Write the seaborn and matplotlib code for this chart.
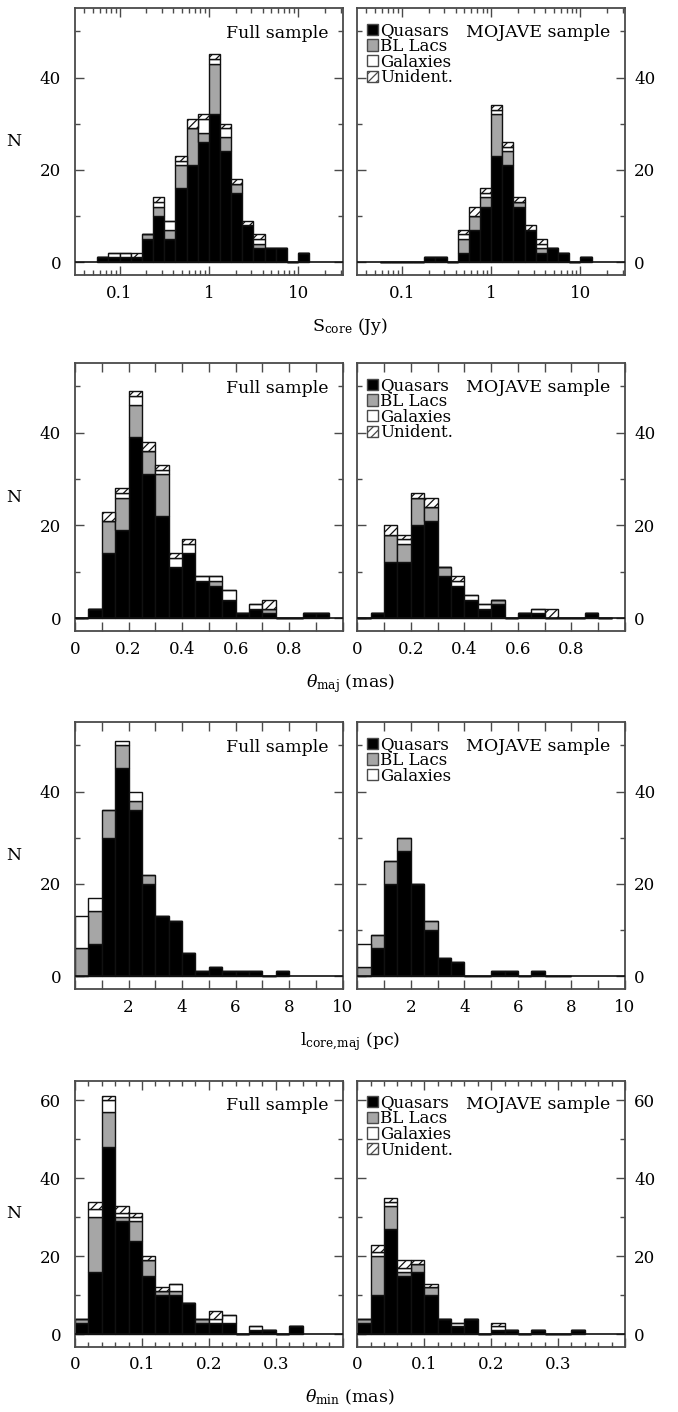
import numpy as np
import pandas as pd
import matplotlib
matplotlib.use("Agg")
import matplotlib.pyplot as plt
import seaborn as sns
from matplotlib.patches import Patch
from matplotlib.ticker import FixedLocator, NullFormatter

sns.set_theme(style="ticks")
plt.rcParams['font.family'] = ['DejaVu Serif']
plt.rcParams['mathtext.fontset'] = 'dejavuserif'
plt.rcParams['hatch.linewidth'] = 0.9
plt.rcParams['text.color'] = 'black'

classes = ["Quasars", "BL Lacs", "Galaxies", "Unident."]

# ---------------- data (counts per bin) ----------------
# S_core: bins in log10(Jy), width 0.125 dex starting at -1.25
score_log_edges = np.arange(-1.25, 1.126, 0.125)
score_full_q = [1, 1, 1, 1, 5, 10, 5, 16, 21, 26, 32, 24, 15, 8, 3, 3, 3, 0, 2]
score_full_b = [0, 0, 0, 0, 1, 2, 2, 5, 8, 2, 11, 3, 2, 0, 1, 0, 0, 0, 0]
score_full_g = [0, 1, 1, 0, 0, 1, 2, 1, 0, 3, 1, 2, 0, 0, 1, 0, 0, 0, 0]
score_full_u = [0, 0, 0, 1, 0, 1, 0, 1, 2, 1, 1, 1, 1, 1, 1, 0, 0, 0, 0]
score_moj_q = [0, 0, 0, 0, 1, 1, 0, 2, 7, 12, 23, 21, 12, 7, 2, 3, 2, 0, 1]
score_moj_b = [0, 0, 0, 0, 0, 0, 0, 3, 3, 2, 9, 3, 1, 0, 1, 0, 0, 0, 0]
score_moj_g = [0, 0, 0, 0, 0, 0, 0, 1, 0, 1, 1, 1, 0, 0, 1, 0, 0, 0, 0]
score_moj_u = [0, 0, 0, 0, 0, 0, 0, 1, 2, 1, 1, 1, 1, 1, 1, 0, 0, 0, 0]

# theta_maj (mas): bins of 0.05 from 0
tmaj_edges = np.arange(0, 0.951, 0.05)
tmaj_full_q = [0, 2, 14, 19, 39, 31, 22, 11, 14, 8, 7, 4, 1, 2, 1, 0, 0, 1, 1]
tmaj_full_b = [0, 0, 7, 7, 7, 5, 9, 0, 0, 0, 1, 0, 0, 0, 1, 0, 0, 0, 0]
tmaj_full_g = [0, 0, 0, 1, 2, 0, 1, 2, 2, 1, 1, 2, 0, 1, 0, 0, 0, 0, 0]
tmaj_full_u = [0, 0, 2, 1, 1, 2, 1, 1, 1, 0, 0, 0, 0, 0, 2, 0, 0, 0, 0]
tmaj_moj_q = [0, 1, 12, 12, 20, 21, 9, 7, 4, 2, 3, 0, 1, 1, 0, 0, 0, 1, 0]
tmaj_moj_b = [0, 0, 6, 4, 6, 3, 2, 0, 0, 0, 1, 0, 0, 0, 0, 0, 0, 0, 0]
tmaj_moj_g = [0, 0, 0, 1, 0, 0, 0, 1, 1, 1, 0, 0, 0, 1, 0, 0, 0, 0, 0]
tmaj_moj_u = [0, 0, 2, 1, 1, 2, 0, 1, 0, 0, 0, 0, 0, 0, 2, 0, 0, 0, 0]

# l_core,maj (pc): bins of 0.5 from 0
lcore_edges = np.arange(0, 8.01, 0.5)
lcore_full_q = [0, 7, 30, 45, 36, 20, 13, 12, 5, 1, 2, 1, 1, 1, 0, 1]
lcore_full_b = [6, 7, 6, 5, 2, 2, 0, 0, 0, 0, 0, 0, 0, 0, 0, 0]
lcore_full_g = [7, 3, 0, 1, 2, 0, 0, 0, 0, 0, 0, 0, 0, 0, 0, 0]
lcore_moj_q = [0, 6, 20, 27, 20, 10, 4, 3, 0, 0, 1, 1, 0, 1, 0, 0]
lcore_moj_b = [2, 3, 5, 3, 0, 2, 0, 0, 0, 0, 0, 0, 0, 0, 0, 0]
lcore_moj_g = [5, 0, 0, 0, 0, 0, 0, 0, 0, 0, 0, 0, 0, 0, 0, 0]

# theta_min (mas): bins of 0.02 from 0
tmin_edges = np.arange(0, 0.341, 0.02)
tmin_full_q = [3, 16, 48, 29, 24, 15, 10, 10, 8, 3, 3, 3, 0, 1, 1, 0, 2]
tmin_full_b = [1, 14, 9, 1, 5, 4, 1, 1, 0, 1, 0, 0, 0, 0, 0, 0, 0]
tmin_full_g = [0, 2, 3, 1, 1, 0, 0, 2, 0, 0, 1, 2, 0, 1, 0, 0, 0]
tmin_full_u = [0, 2, 1, 2, 1, 1, 1, 0, 0, 0, 2, 0, 0, 0, 0, 0, 0]
tmin_moj_q = [3, 10, 27, 15, 16, 10, 4, 2, 4, 0, 1, 1, 0, 1, 0, 0, 1]
tmin_moj_b = [1, 10, 6, 1, 2, 2, 0, 0, 0, 0, 0, 0, 0, 0, 0, 0, 0]
tmin_moj_g = [0, 1, 1, 1, 0, 0, 0, 1, 0, 0, 1, 0, 0, 0, 0, 0, 0]
tmin_moj_u = [0, 2, 1, 2, 1, 1, 0, 0, 0, 0, 1, 0, 0, 0, 0, 0, 0]

xlabels = [r"S$_{\mathrm{core}}$ (Jy)", r"$\theta_{\mathrm{maj}}$ (mas)",
           r"l$_{\mathrm{core{,}maj}}$ (pc)", r"$\theta_{\mathrm{min}}$ (mas)"]

# ---------------- styling ----------------
DARK = "#111111"
SPINE = "#4a4a4a"
GRAY = "#a6a6a6"
UNID = "#fefefe"
HATCH = "////"
palette = {"Quasars": "black", "BL Lacs": GRAY, "Galaxies": "white", "Unident.": UNID}

W, H = 678, 1412
fig = plt.figure(figsize=(W / 100, H / 100), dpi=100)

# (top px, bottom px) of each row of panels
row_px = [(8.3, 275.0), (363.3, 631.0), (722.3, 989.0), (1080.7, 1346.7)]
col_px = [(75.0, 342.7), (357.3, 625.0)]


def draw_panel(ax, edges, series, log=False):
    edges = np.asarray(edges, dtype=float)
    centers = (edges[:-1] + edges[1:]) / 2
    xs = 10 ** centers if log else centers
    rows = []
    present = []
    for name, vals in zip(classes, series):
        if vals is None:
            continue
        present.append(name)
        for xc, v in zip(xs, vals):
            rows.append((xc, v, name))
    df = pd.DataFrame(rows, columns=["x", "w", "cls"])
    sns.histplot(data=df, x="x", weights="w", hue="cls", hue_order=present[::-1],
                 multiple="stack", bins=[float(e) for e in edges], log_scale=log,
                 palette=palette, edgecolor=DARK, linewidth=1.0, alpha=1,
                 legend=False, ax=ax)
    for p in ax.patches:
        fc = p.get_facecolor()
        if abs(fc[0] - 254 / 255) < 1e-3 and abs(fc[1] - 254 / 255) < 1e-3:
            p.set_hatch(HATCH)
    ax.axhline(0, color=DARK, lw=1.2, zorder=5)
    ax.set_xlabel("")
    ax.set_ylabel("")
    return present


panels = [
    (score_log_edges, [(score_full_q, score_full_b, score_full_g, score_full_u),
                       (score_moj_q, score_moj_b, score_moj_g, score_moj_u)], True),
    (tmaj_edges, [(tmaj_full_q, tmaj_full_b, tmaj_full_g, tmaj_full_u),
                  (tmaj_moj_q, tmaj_moj_b, tmaj_moj_g, tmaj_moj_u)], False),
    (lcore_edges, [(lcore_full_q, lcore_full_b, lcore_full_g, None),
                   (lcore_moj_q, lcore_moj_b, lcore_moj_g, None)], False),
    (tmin_edges, [(tmin_full_q, tmin_full_b, tmin_full_g, tmin_full_u),
                  (tmin_moj_q, tmin_moj_b, tmin_moj_g, tmin_moj_u)], False),
]

for r, (edges, sets, log) in enumerate(panels):
    top, bot = row_px[r]
    for c in range(2):
        x0, x1 = col_px[c]
        ax = fig.add_axes([x0 / W, 1 - bot / H, (x1 - x0) / W, (bot - top) / H])
        present = draw_panel(ax, edges, sets[c], log=log)

        # x axis
        if r == 0:
            ax.set_xscale("log")
            ax.set_xlim(10 ** -1.5, 10 ** 1.5)
            ax.xaxis.set_major_locator(FixedLocator([0.1, 1, 10]))
            ax.set_xticklabels(["0.1", "1", "10"])
            minors = [m * d for d in [0.01, 0.1, 1, 10] for m in range(2, 10)]
            ax.xaxis.set_minor_locator(FixedLocator(minors))
            ax.xaxis.set_minor_formatter(NullFormatter())
        elif r == 1:
            ax.set_xlim(0, 1.0)
            ticks = np.round(np.arange(0, 1.01, 0.1), 2)
            ax.xaxis.set_major_locator(FixedLocator(ticks))
            ax.set_xticklabels(["0", "", "0.2", "", "0.4", "", "0.6", "", "0.8", "", ""])
        elif r == 2:
            ax.set_xlim(0, 10)
            ticks = np.arange(0, 11, 1)
            ax.xaxis.set_major_locator(FixedLocator(ticks))
            ax.set_xticklabels(["" if (t == 0 or t % 2) else str(t) for t in ticks])
        else:
            ax.set_xlim(0, 0.4)
            ax.xaxis.set_major_locator(FixedLocator([0, 0.1, 0.2, 0.3, 0.4]))
            ax.set_xticklabels(["0", "0.1", "0.2", "0.3", ""])
            ax.xaxis.set_minor_locator(FixedLocator(np.arange(0, 0.401, 0.02)))
            ax.xaxis.set_minor_formatter(NullFormatter())

        # y axis
        if r < 3:
            ax.set_ylim(-2.8, 55)
            ax.yaxis.set_major_locator(FixedLocator([0, 20, 40]))
            ax.yaxis.set_minor_locator(FixedLocator([10, 30, 50]))
        else:
            ax.set_ylim(-3.2, 65)
            ax.yaxis.set_major_locator(FixedLocator([0, 20, 40, 60]))
            ax.yaxis.set_minor_locator(FixedLocator([10, 30, 50]))
        ax.yaxis.set_minor_formatter(NullFormatter())

        ax.tick_params(which="both", direction="in", top=True, right=True,
                       bottom=True, left=True, color=SPINE, labelsize=12,
                       labelcolor="black")
        ax.tick_params(which="major", length=6.5, width=1.0)
        ax.tick_params(which="minor", length=3.6, width=1.0)
        ax.tick_params(axis="x", pad=7)
        if c == 0:
            ax.tick_params(axis="y", labelleft=True, labelright=False, pad=10)
        else:
            ax.tick_params(axis="y", labelleft=False, labelright=True, pad=6.5)
        for s in ax.spines.values():
            s.set_color(SPINE)
            s.set_linewidth(1.3)
            s.set_visible(True)

        if c == 0:
            ax.text(0.946, 0.89, "Full sample", transform=ax.transAxes,
                    ha="right", va="baseline", fontsize=12.5, color="black")
            fig.text(14 / W, 1 - ((top + bot) / 2) / H, "N", ha="center",
                     va="center", fontsize=12.5, color="black")
        else:
            ax.text(0.944, 0.893, "MOJAVE sample", transform=ax.transAxes,
                    ha="right", va="baseline", fontsize=12.5, color="black")
            handles = []
            for name in classes:
                if name not in present:
                    continue
                h = Patch(facecolor=palette[name], edgecolor=SPINE, linewidth=1.0,
                          hatch=HATCH if name == "Unident." else None)
                handles.append(h)
            leg = ax.legend(handles=handles, labels=[n for n in classes if n in present],
                            loc="upper left", bbox_to_anchor=(0.035, 0.948),
                            borderaxespad=0, borderpad=0, frameon=False,
                            fontsize=12, handlelength=0.68, handleheight=0.68,
                            handletextpad=0.12, labelspacing=-0.08,
                            labelcolor="black")

    fig.text(350 / W, 1 - (bot + 56) / H, xlabels[r], ha="center", va="baseline",
             fontsize=12.5, color="black")

fig.savefig("out.png", dpi=100)
